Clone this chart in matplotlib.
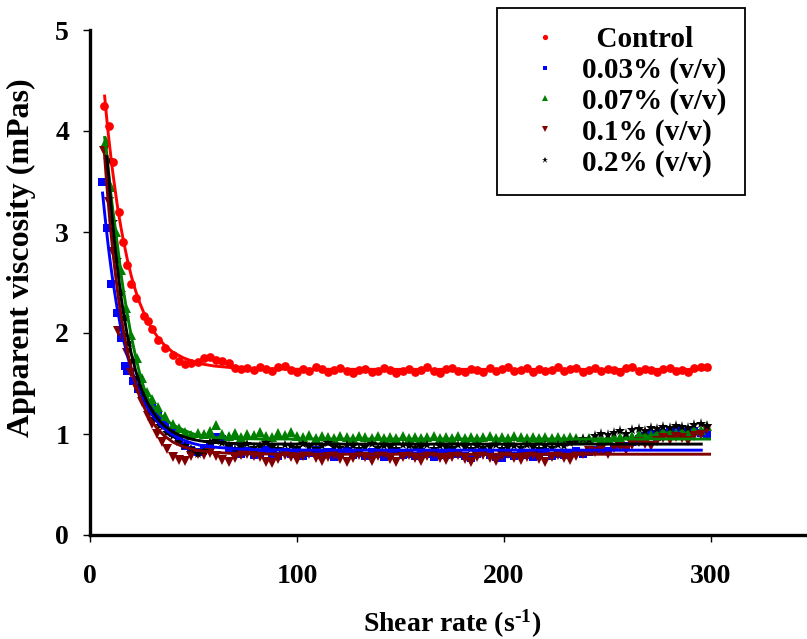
import numpy as np
import matplotlib
matplotlib.use("Agg")
import matplotlib.pyplot as plt

plt.rcParams['font.family'] = ['Liberation Serif', 'DejaVu Serif']
plt.rcParams['font.weight'] = 'bold'
plt.rcParams['mathtext.fontset'] = 'custom'
plt.rcParams['mathtext.rm'] = 'Liberation Serif:bold'
plt.rcParams['mathtext.bf'] = 'Liberation Serif:bold'
plt.rcParams['mathtext.it'] = 'Liberation Serif:bold'
plt.rcParams['mathtext.default'] = 'bf'

# ---------------- data ----------------
labels = ["  Control", "0.03% (v/v)", "0.07% (v/v)", "0.1% (v/v)", "0.2% (v/v)"]

# early measured points (shear rate < 40 1/s), per series
head_x_control = [7, 9, 11, 14, 16, 18, 20, 22, 26, 28, 30, 33, 36]
head_y_control = [4.25, 4.05, 3.69, 3.20, 2.90, 2.67, 2.49, 2.35, 2.17, 2.12, 2.04, 1.93, 1.85]
head_x_003 = [6, 8, 10, 13, 15, 17, 18, 21, 23, 25, 28, 30, 33, 36]
head_y_003 = [3.50, 3.04, 2.49, 2.20, 1.95, 1.67, 1.62, 1.52, 1.45, 1.39, 1.31, 1.27, 1.18, 1.11]
head_x_007 = [7.6, 10, 12.5, 15, 17.5, 20, 22.5, 25, 27.5, 30, 33, 36]
head_y_007 = [3.90, 3.45, 3.00, 2.62, 2.25, 1.98, 1.75, 1.55, 1.42, 1.35, 1.27, 1.18]
head_x_01 = [6.8, 9, 11, 13.7, 16, 18, 20, 22.5, 25, 28, 30, 32.3, 34.6, 37]
head_y_01 = [3.80, 3.30, 2.80, 2.02, 1.95, 1.80, 1.60, 1.45, 1.32, 1.18, 1.10, 1.00, 0.92, 0.85]
head_x_02 = [8.7, 11, 13, 15, 17, 19, 21, 23, 25, 27, 29, 31, 34, 37]
head_y_02 = [3.71, 3.10, 2.72, 2.40, 2.15, 1.90, 1.72, 1.55, 1.40, 1.30, 1.22, 1.15, 1.08, 1.01]

# shared shear rates for the rest of the measurement
tail_x = [40, 43, 46, 49, 52, 55, 58, 61, 64, 67, 70, 73, 76, 79, 82, 85, 88, 91, 94,
          97, 100, 103, 106, 109, 112, 115, 118, 121, 124,
          127, 130, 133, 136, 139, 142, 145, 148, 151, 154,
          157, 160, 163, 166, 169, 172, 175, 178, 181, 184,
          187, 190, 193, 196, 199, 202, 205, 208, 211, 214,
          217, 220, 223, 226, 229, 232, 235, 238, 241, 244,
          247, 250, 253, 256, 259, 262, 265, 268, 271, 274,
          277, 280, 283, 286, 289, 292, 295, 298]

tail_y_control = [1.78, 1.72, 1.69, 1.70, 1.71, 1.75, 1.76, 1.73, 1.72, 1.70, 1.65, 1.64, 1.65, 1.63, 1.66, 1.64, 1.62, 1.66, 1.67,
                  1.63, 1.61, 1.64, 1.62, 1.66, 1.64, 1.61, 1.63, 1.65, 1.62,
                  1.60, 1.63, 1.64, 1.61, 1.62, 1.65, 1.63, 1.60, 1.62, 1.64,
                  1.61, 1.63, 1.66, 1.62, 1.60, 1.64, 1.65, 1.62, 1.61, 1.64,
                  1.63, 1.61, 1.65, 1.62, 1.64, 1.66, 1.62, 1.63, 1.65, 1.61,
                  1.64, 1.62, 1.63, 1.66, 1.62, 1.64, 1.65, 1.61, 1.63, 1.65,
                  1.62, 1.64, 1.63, 1.61, 1.65, 1.66, 1.62, 1.64, 1.63, 1.61,
                  1.64, 1.65, 1.62, 1.63, 1.61, 1.65, 1.66, 1.66]
tail_y_003 = [1.01, 0.95, 0.88, 0.84, 0.82, 0.86, 0.90, 0.97, 0.95, 0.85, 0.82, 0.80, 0.83, 0.79, 0.81, 0.84, 0.80, 0.78, 0.82,
              0.80, 0.83, 0.78, 0.81, 0.84, 0.79, 0.82, 0.77, 0.80, 0.83,
              0.79, 0.81, 0.78, 0.82, 0.80, 0.77, 0.81, 0.83, 0.79, 0.80,
              0.78, 0.82, 0.80, 0.77, 0.81, 0.79, 0.83, 0.80, 0.78, 0.76,
              0.80, 0.82, 0.79, 0.77, 0.76, 0.80, 0.78, 0.81, 0.79, 0.77,
              0.80, 0.82, 0.78, 0.80, 0.79, 0.81, 0.83, 0.80, 0.82, 0.84,
              0.85, 0.83, 0.87, 0.90, 0.88, 0.92, 0.95, 0.98, 1.00, 0.97,
              1.01, 1.03, 1.04, 1.00, 1.02, 1.03, 1.01, 0.99]
tail_y_007 = [1.10, 1.06, 1.02, 0.99, 1.01, 1.00, 1.03, 1.09, 1.00, 0.98, 1.01, 0.97, 1.00, 0.99, 1.02, 0.98, 0.97, 1.01, 0.99,
              1.02, 0.98, 0.97, 0.99, 0.96, 0.98, 0.97, 0.96, 0.98, 0.97,
              0.96, 0.98, 0.97, 0.96, 0.98, 0.96, 0.97, 0.96, 0.98, 0.96,
              0.97, 0.96, 0.97, 0.98, 0.96, 0.97, 0.96, 0.98, 0.96, 0.97,
              0.96, 0.97, 0.98, 0.96, 0.97, 0.96, 0.98, 0.97, 0.96, 0.97,
              0.96, 0.97, 0.96, 0.97, 0.96, 0.97, 0.96, 0.95, 0.96, 0.97,
              0.95, 0.96, 0.97, 0.97, 0.99, 0.98, 1.00, 1.01, 0.99, 1.02,
              1.03, 1.04, 1.01, 1.03, 1.02, 1.05, 1.04, 1.08]
tail_y_01 = [0.77, 0.74, 0.73, 0.78, 0.80, 0.79, 0.81, 0.78, 0.74, 0.72, 0.76, 0.79, 0.80, 0.78, 0.77, 0.72, 0.71, 0.75, 0.79,
             0.77, 0.74, 0.78, 0.80, 0.76, 0.73, 0.77, 0.79, 0.75, 0.72,
             0.76, 0.79, 0.77, 0.73, 0.78, 0.80, 0.75, 0.72, 0.77, 0.79,
             0.76, 0.73, 0.78, 0.80, 0.76, 0.74, 0.77, 0.79, 0.75, 0.72,
             0.77, 0.79, 0.76, 0.73, 0.78, 0.80, 0.76, 0.74, 0.77, 0.79,
             0.75, 0.72, 0.77, 0.79, 0.76, 0.74, 0.78, 0.80, 0.83, 0.82,
             0.84, 0.80, 0.86, 0.87, 0.84, 0.89, 0.92, 0.90, 0.88, 0.93,
             0.96, 0.94, 0.97, 0.96, 0.93, 0.98, 0.99, 1.05]
tail_y_02 = [0.98, 0.92, 0.88, 0.85, 0.80, 0.83, 0.92, 0.93, 0.91, 0.88, 0.85, 0.87, 0.90, 0.86, 0.88, 0.91, 0.87, 0.85, 0.89,
             0.88, 0.86, 0.90, 0.87, 0.85, 0.88, 0.91, 0.87, 0.86, 0.89,
             0.88, 0.85, 0.87, 0.90, 0.86, 0.88, 0.87, 0.85, 0.89, 0.88,
             0.86, 0.87, 0.89, 0.85, 0.88, 0.87, 0.86, 0.89, 0.87, 0.85,
             0.88, 0.86, 0.87, 0.89, 0.85, 0.87, 0.88, 0.86, 0.89, 0.87,
             0.85, 0.88, 0.86, 0.89, 0.88, 0.91, 0.93, 0.95, 0.94, 0.98,
             1.00, 0.99, 1.01, 1.03, 1.00, 1.04, 1.05, 1.03, 1.06, 1.05,
             1.07, 1.06, 1.08, 1.07, 1.06, 1.09, 1.10, 1.08]

# fitted model curves (nan = curve not drawn there)
nan = float('nan')
fit_x = [6, 7, 8, 9, 10, 11, 12, 13, 14, 15, 16, 18, 20, 22, 24, 26, 28, 30, 33, 36,
         40, 45, 50, 55, 60, 70, 80, 100, 150, 200, 250, 296, 300]
fit_control = [nan, 4.36, 4.14, 3.94, 3.76, 3.59, 3.44, 3.29, 3.16, 3.04, 2.93, 2.73, 2.56, 2.42, 2.30, 2.20, 2.11, 2.04, 1.95, 1.88,
               1.81, 1.755, 1.716, 1.69, 1.673, 1.654, 1.646, 1.641, 1.64, 1.64, 1.64, 1.64, 1.64]
fit_003 = [3.40, 3.20, 3.01, 2.83, 2.67, 2.52, 2.39, 2.26, 2.15, 2.04, 1.95, 1.78, 1.64, 1.52, 1.41, 1.32, 1.25, 1.19, 1.11, 1.05,
           0.99, 0.94, 0.905, 0.88, 0.87, 0.853, 0.845, 0.841, 0.84, 0.84, 0.84, 0.84, nan]
fit_007 = [nan, 3.95, 3.79, 3.59, 3.39, 3.22, 3.07, 2.91, 2.75, 2.58, 2.44, 2.19, 1.96, 1.77, 1.60, 1.46, 1.35, 1.29, 1.21, 1.15,
           1.09, 1.04, 1.00, 0.977, 0.965, 0.955, 0.952, 0.95, 0.95, 0.95, 0.95, 0.95, 0.95]
fit_01 = [nan, 3.77, 3.50, 3.25, 3.02, 2.82, 2.63, 2.46, 2.31, 2.17, 2.04, 1.82, 1.64, 1.49, 1.37, 1.27, 1.19, 1.12, 1.04, 0.98,
          0.92, 0.874, 0.846, 0.828, 0.817, 0.807, 0.803, 0.80, 0.80, 0.80, 0.80, 0.80, 0.80]
fit_02 = [nan, nan, 3.76, 3.56, 3.31, 3.08, 2.87, 2.69, 2.52, 2.36, 2.22, 1.98, 1.79, 1.63, 1.49, 1.39, 1.30, 1.23, 1.14, 1.08,
          1.02, 0.973, 0.944, 0.927, 0.916, 0.906, 0.902, 0.90, 0.90, 0.90, 0.90, 0.90, nan]

x_ticks = [0, 100, 200, 300]
y_ticks = [0, 1, 2, 3, 4, 5]

# ---------------- styling ----------------
colors = ['#FF0000', '#0000FF', '#008000', '#800000', '#000000']
markers = ['o', 's', '^', 'v', '*']
msizes = [6.3, 5.4, 6.5, 6.5, 8.0]

series = [
    (head_x_control + tail_x, head_y_control + tail_y_control, fit_control),
    (head_x_003 + tail_x, head_y_003 + tail_y_003, fit_003),
    (head_x_007 + tail_x, head_y_007 + tail_y_007, fit_007),
    (head_x_01 + tail_x, head_y_01 + tail_y_01, fit_01),
    (head_x_02 + tail_x, head_y_02 + tail_y_02, fit_02),
]

fig = plt.figure(figsize=(8.07, 6.39), dpi=100)
ax = fig.add_axes([90 / 807, 104 / 639, 717 / 807, 505 / 639])

handles = []
for (xs, ys, fy), c, m, ms, lab in zip(series, colors, markers, msizes, labels):
    h, = ax.plot(xs, ys, linestyle='none', marker=m, color=c, markersize=ms,
                 markeredgewidth=0, label=lab, zorder=2)
    handles.append(h)
for (xs, ys, fy), c in zip(series, colors):
    ax.plot(fit_x, fy, color=c, linewidth=2.1, zorder=3, solid_capstyle='butt')

ax.set_xlim(0, 717 / 2.07)
ax.set_ylim(0, 5)
ax.set_xticks(x_ticks)
ax.set_yticks(y_ticks)
ax.spines['top'].set_visible(False)
ax.spines['right'].set_visible(False)
for s in ('left', 'bottom'):
    ax.spines[s].set_linewidth(2.4)
    ax.spines[s].set_color('black')
ax.tick_params(axis='both', direction='out', length=5, width=1.0, labelsize=20, colors='black')
ax.tick_params(axis='y', pad=10)
ax.tick_params(axis='x', pad=16)
for lbl in ax.get_xticklabels() + ax.get_yticklabels():
    lbl.set_fontweight('bold')

ax.set_xlabel('Shear rate (s$^{\\text{-1}}$)', fontsize=20, fontweight='bold')
ax.set_ylabel('Apparent viscosity (mPas)', fontsize=23, fontweight='bold')
ax.xaxis.set_label_coords((452 - 90) / 717, -(608 - 535) / 505)
ax.yaxis.set_label_coords(-(90 - 36) / 717, (535 - 258) / 505)

leg = fig.legend(handles=handles, labels=labels, loc='upper left',
                 bbox_to_anchor=(497 / 807, 1 - 8 / 639), bbox_transform=fig.transFigure,
                 prop={'family': 'Liberation Serif', 'weight': 'bold', 'size': 21},
                 markerscale=0.6, handlelength=2.0, handletextpad=0.3,
                 labelspacing=0.12, borderpad=0.63, borderaxespad=0.0,
                 fancybox=False, framealpha=1.0, edgecolor='black')
leg.get_frame().set_linewidth(1.3)

fig.savefig('out.png', dpi=100)
